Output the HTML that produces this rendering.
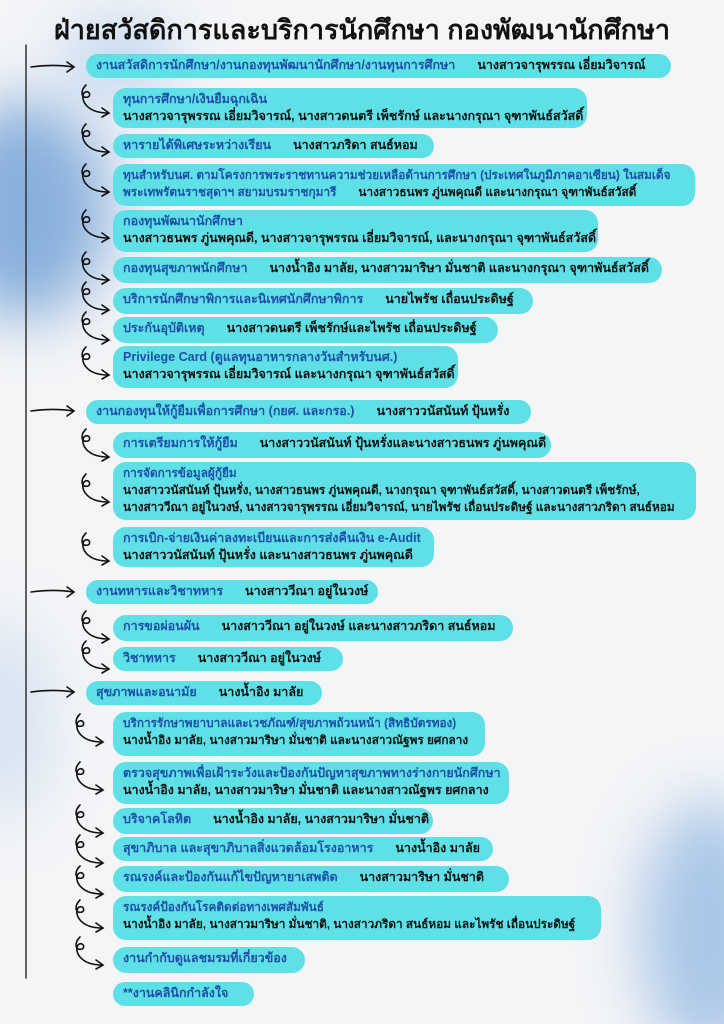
<!DOCTYPE html>
<html><head><meta charset="utf-8"><style>
*{margin:0;padding:0;box-sizing:border-box}
html,body{width:724px;height:1024px;overflow:hidden}
body{position:relative;background:#f4f5f7;font-family:"Liberation Sans","DejaVu Sans",sans-serif;font-weight:bold}
.blob{position:absolute;border-radius:50%;filter:blur(30px)}
.b{position:absolute;background:#5ee0e6;border-radius:13px;padding:3px 10px;font-size:12.5px;line-height:17px;color:#111;white-space:nowrap}
.t{color:#1d4fa8}
.n{margin-left:22px}
.s{font-size:11.8px}
h1{position:absolute;top:8px;left:0;width:724px;text-align:center;font-size:27px;color:#111;font-weight:900}
svg{position:absolute;left:0;top:0}
</style></head><body>
<div class="blob" style="left:-60px;top:100px;width:170px;height:220px;background:#6f9fd6;opacity:.8"></div>
<div class="blob" style="left:60px;top:20px;width:120px;height:80px;background:#9fc3ea;opacity:.6"></div>
<div class="blob" style="left:640px;top:800px;width:140px;height:260px;background:#7aa9dd;opacity:.6"></div>
<div class="blob" style="left:-40px;top:620px;width:90px;height:200px;background:#a9c7ea;opacity:.4"></div>
<h1>ฝ่ายสวัสดิการและบริการนักศึกษา กองพัฒนานักศึกษา</h1>
<svg width="724" height="1024" fill="none" stroke="#111" stroke-width="1.6" stroke-linecap="round">
<defs><g id="c"><path d="M8,2 C2,8 3,16 10,14 C14,12 10,6 6,10 C2,16 8,30 30,30"/><path d="M24,25 L31,30 L24,34"/></g>
<g id="s"><path d="M0,0 C15,-2 30,-2 42,0"/><path d="M36,-5 L43,0 L36,5"/></g></defs>
<line x1="26" y1="45" x2="26" y2="978" stroke="#333" stroke-width="1.5"/>
<use href="#s" transform="translate(31,67)"/>
<use href="#s" transform="translate(31,411)"/>
<use href="#s" transform="translate(31,592)"/>
<use href="#s" transform="translate(31,692)"/>
<g>
<use href="#c" transform="translate(78,83)"/>
<use href="#c" transform="translate(78,122)"/>
<use href="#c" transform="translate(78,162)"/>
<use href="#c" transform="translate(78,208)"/>
<use href="#c" transform="translate(78,250)"/>
<use href="#c" transform="translate(78,280)"/>
<use href="#c" transform="translate(78,310)"/>
<use href="#c" transform="translate(78,345)"/>
<use href="#c" transform="translate(78,427)"/>
<use href="#c" transform="translate(78,472)"/>
<use href="#c" transform="translate(78,531)"/>
<use href="#c" transform="translate(78,609)"/>
<use href="#c" transform="translate(78,639)"/>
<use href="#c" transform="translate(72,712)"/>
<use href="#c" transform="translate(72,760)"/>
<use href="#c" transform="translate(72,803)"/>
<use href="#c" transform="translate(72,833)"/>
<use href="#c" transform="translate(72,864)"/>
<use href="#c" transform="translate(72,898)"/>
<use href="#c" transform="translate(72,935)"/>
</g>
</svg>
<div class="b" style="left:86px;top:54px;width:585px;height:24px"><span class="t">งานสวัสดิการนักศึกษา/งานกองทุนพัฒนานักศึกษา/งานทุนการศึกษา</span><span class="n">นางสาวจารุพรรณ เอี่ยมวิจารณ์</span></div>
<div class="b" style="left:113px;top:88px;width:474px;height:40px"><span class="t">ทุนการศึกษา/เงินยืมฉุกเฉิน</span><br>นางสาวจารุพรรณ เอี่ยมวิจารณ์, นางสาวดนตรี เพ็ชรักษ์ และนางกรุณา จุฑาพันธ์สวัสดิ์</div>
<div class="b" style="left:113px;top:134px;width:321px;height:24px"><span class="t">หารายได้พิเศษระหว่างเรียน</span><span class="n">นางสาวภริดา สนธ์หอม</span></div>
<div class="b s" style="left:113px;top:164px;width:582px;height:42px"><span class="t">ทุนสำหรับนศ. ตามโครงการพระราชทานความช่วยเหลือด้านการศึกษา (ประเทศในภูมิภาคอาเซียน) ในสมเด็จ<br>พระเทพรัตนราชสุดาฯ สยามบรมราชกุมารี</span><span class="n">นางสาวธนพร ภู่นพคุณดี และนางกรุณา จุฑาพันธ์สวัสดิ์</span></div>
<div class="b" style="left:113px;top:210px;width:485px;height:42px"><span class="t">กองทุนพัฒนานักศึกษา</span><br>นางสาวธนพร ภู่นพคุณดี, นางสาวจารุพรรณ เอี่ยมวิจารณ์, และนางกรุณา จุฑาพันธ์สวัสดิ์</div>
<div class="b" style="left:113px;top:257px;width:549px;height:26px"><span class="t">กองทุนสุขภาพนักศึกษา</span><span class="n">นางน้ำอิง มาลัย, นางสาวมาริษา มั่นชาติ และนางกรุณา จุฑาพันธ์สวัสดิ์</span></div>
<div class="b" style="left:113px;top:288px;width:420px;height:26px"><span class="t">บริการนักศึกษาพิการและนิเทศนักศึกษาพิการ</span><span class="n">นายไพรัช เถื่อนประดิษฐ์</span></div>
<div class="b" style="left:113px;top:317px;width:385px;height:26px"><span class="t">ประกันอุบัติเหตุ</span><span class="n">นางสาวดนตรี เพ็ชรักษ์และไพรัช เถื่อนประดิษฐ์</span></div>
<div class="b" style="left:113px;top:346px;width:345px;height:42px"><span class="t">Privilege Card (ดูแลทุนอาหารกลางวันสำหรับนศ.)</span><br>นางสาวจารุพรรณ เอี่ยมวิจารณ์ และนางกรุณา จุฑาพันธ์สวัสดิ์</div>
<div class="b" style="left:86px;top:400px;width:445px;height:24px"><span class="t">งานกองทุนให้กู้ยืมเพื่อการศึกษา (กยศ. และกรอ.)</span><span class="n">นางสาววนัสนันท์ ปุ้นหรั่ง</span></div>
<div class="b" style="left:113px;top:432px;width:438px;height:26px"><span class="t">การเตรียมการให้กู้ยืม</span><span class="n">นางสาววนัสนันท์ ปุ้นหรั่งและนางสาวธนพร ภู่นพคุณดี</span></div>
<div class="b s" style="left:113px;top:462px;width:583px;height:58px"><span class="t">การจัดการข้อมูลผู้กู้ยืม</span><br>นางสาววนัสนันท์ ปุ้นหรั่ง, นางสาวธนพร ภู่นพคุณดี, นางกรุณา จุฑาพันธ์สวัสดิ์, นางสาวดนตรี เพ็ชรักษ์,<br>นางสาววีณา อยู่ในวงษ์, นางสาวจารุพรรณ เอี่ยมวิจารณ์, นายไพรัช เถื่อนประดิษฐ์ และนางสาวภริดา สนธ์หอม</div>
<div class="b" style="left:113px;top:527px;width:321px;height:40px"><span class="t">การเบิก-จ่ายเงินค่าลงทะเบียนและการส่งคืนเงิน e-Audit</span><br>นางสาววนัสนันท์ ปุ้นหรั่ง และนางสาวธนพร ภู่นพคุณดี</div>
<div class="b" style="left:86px;top:580px;width:292px;height:24px"><span class="t">งานทหารและวิชาทหาร</span><span class="n">นางสาววีณา อยู่ในวงษ์</span></div>
<div class="b" style="left:113px;top:615px;width:400px;height:26px"><span class="t">การขอผ่อนผัน</span><span class="n">นางสาววีณา อยู่ในวงษ์ และนางสาวภริดา สนธ์หอม</span></div>
<div class="b" style="left:113px;top:647px;width:230px;height:24px"><span class="t">วิชาทหาร</span><span class="n">นางสาววีณา อยู่ในวงษ์</span></div>
<div class="b" style="left:86px;top:681px;width:236px;height:24px"><span class="t">สุขภาพและอนามัย</span><span class="n">นางน้ำอิง มาลัย</span></div>
<div class="b s" style="left:113px;top:712px;width:372px;height:44px"><span class="t">บริการรักษาพยาบาลและเวชภัณฑ์/สุขภาพถ้วนหน้า (สิทธิบัตรทอง)</span><br>นางน้ำอิง มาลัย, นางสาวมาริษา มั่นชาติ และนางสาวณัฐพร ยศกลาง</div>
<div class="b" style="left:113px;top:762px;width:396px;height:42px"><span class="t">ตรวจสุขภาพเพื่อเฝ้าระวังและป้องกันปัญหาสุขภาพทางร่างกายนักศึกษา</span><br>นางน้ำอิง มาลัย, นางสาวมาริษา มั่นชาติ และนางสาวณัฐพร ยศกลาง</div>
<div class="b" style="left:113px;top:808px;width:320px;height:26px"><span class="t">บริจาคโลหิต</span><span class="n">นางน้ำอิง มาลัย, นางสาวมาริษา มั่นชาติ</span></div>
<div class="b" style="left:113px;top:837px;width:380px;height:24px"><span class="t">สุขาภิบาล และสุขาภิบาลสิ่งแวดล้อมโรงอาหาร</span><span class="n">นางน้ำอิง มาลัย</span></div>
<div class="b" style="left:113px;top:866px;width:396px;height:26px"><span class="t">รณรงค์และป้องกันแก้ไขปัญหายาเสพติด</span><span class="n">นางสาวมาริษา มั่นชาติ</span></div>
<div class="b s" style="left:113px;top:896px;width:488px;height:44px"><span class="t">รณรงค์ป้องกันโรคติดต่อทางเพศสัมพันธ์</span><br>นางน้ำอิง มาลัย, นางสาวมาริษา มั่นชาติ, นางสาวภริดา สนธ์หอม และไพรัช เถื่อนประดิษฐ์</div>
<div class="b" style="left:113px;top:947px;width:192px;height:26px"><span class="t">งานกำกับดูแลชมรมที่เกี่ยวข้อง</span></div>
<div class="b" style="left:113px;top:982px;width:141px;height:24px"><span class="t">**งานคลินิกกำลังใจ</span></div>
</body></html>
